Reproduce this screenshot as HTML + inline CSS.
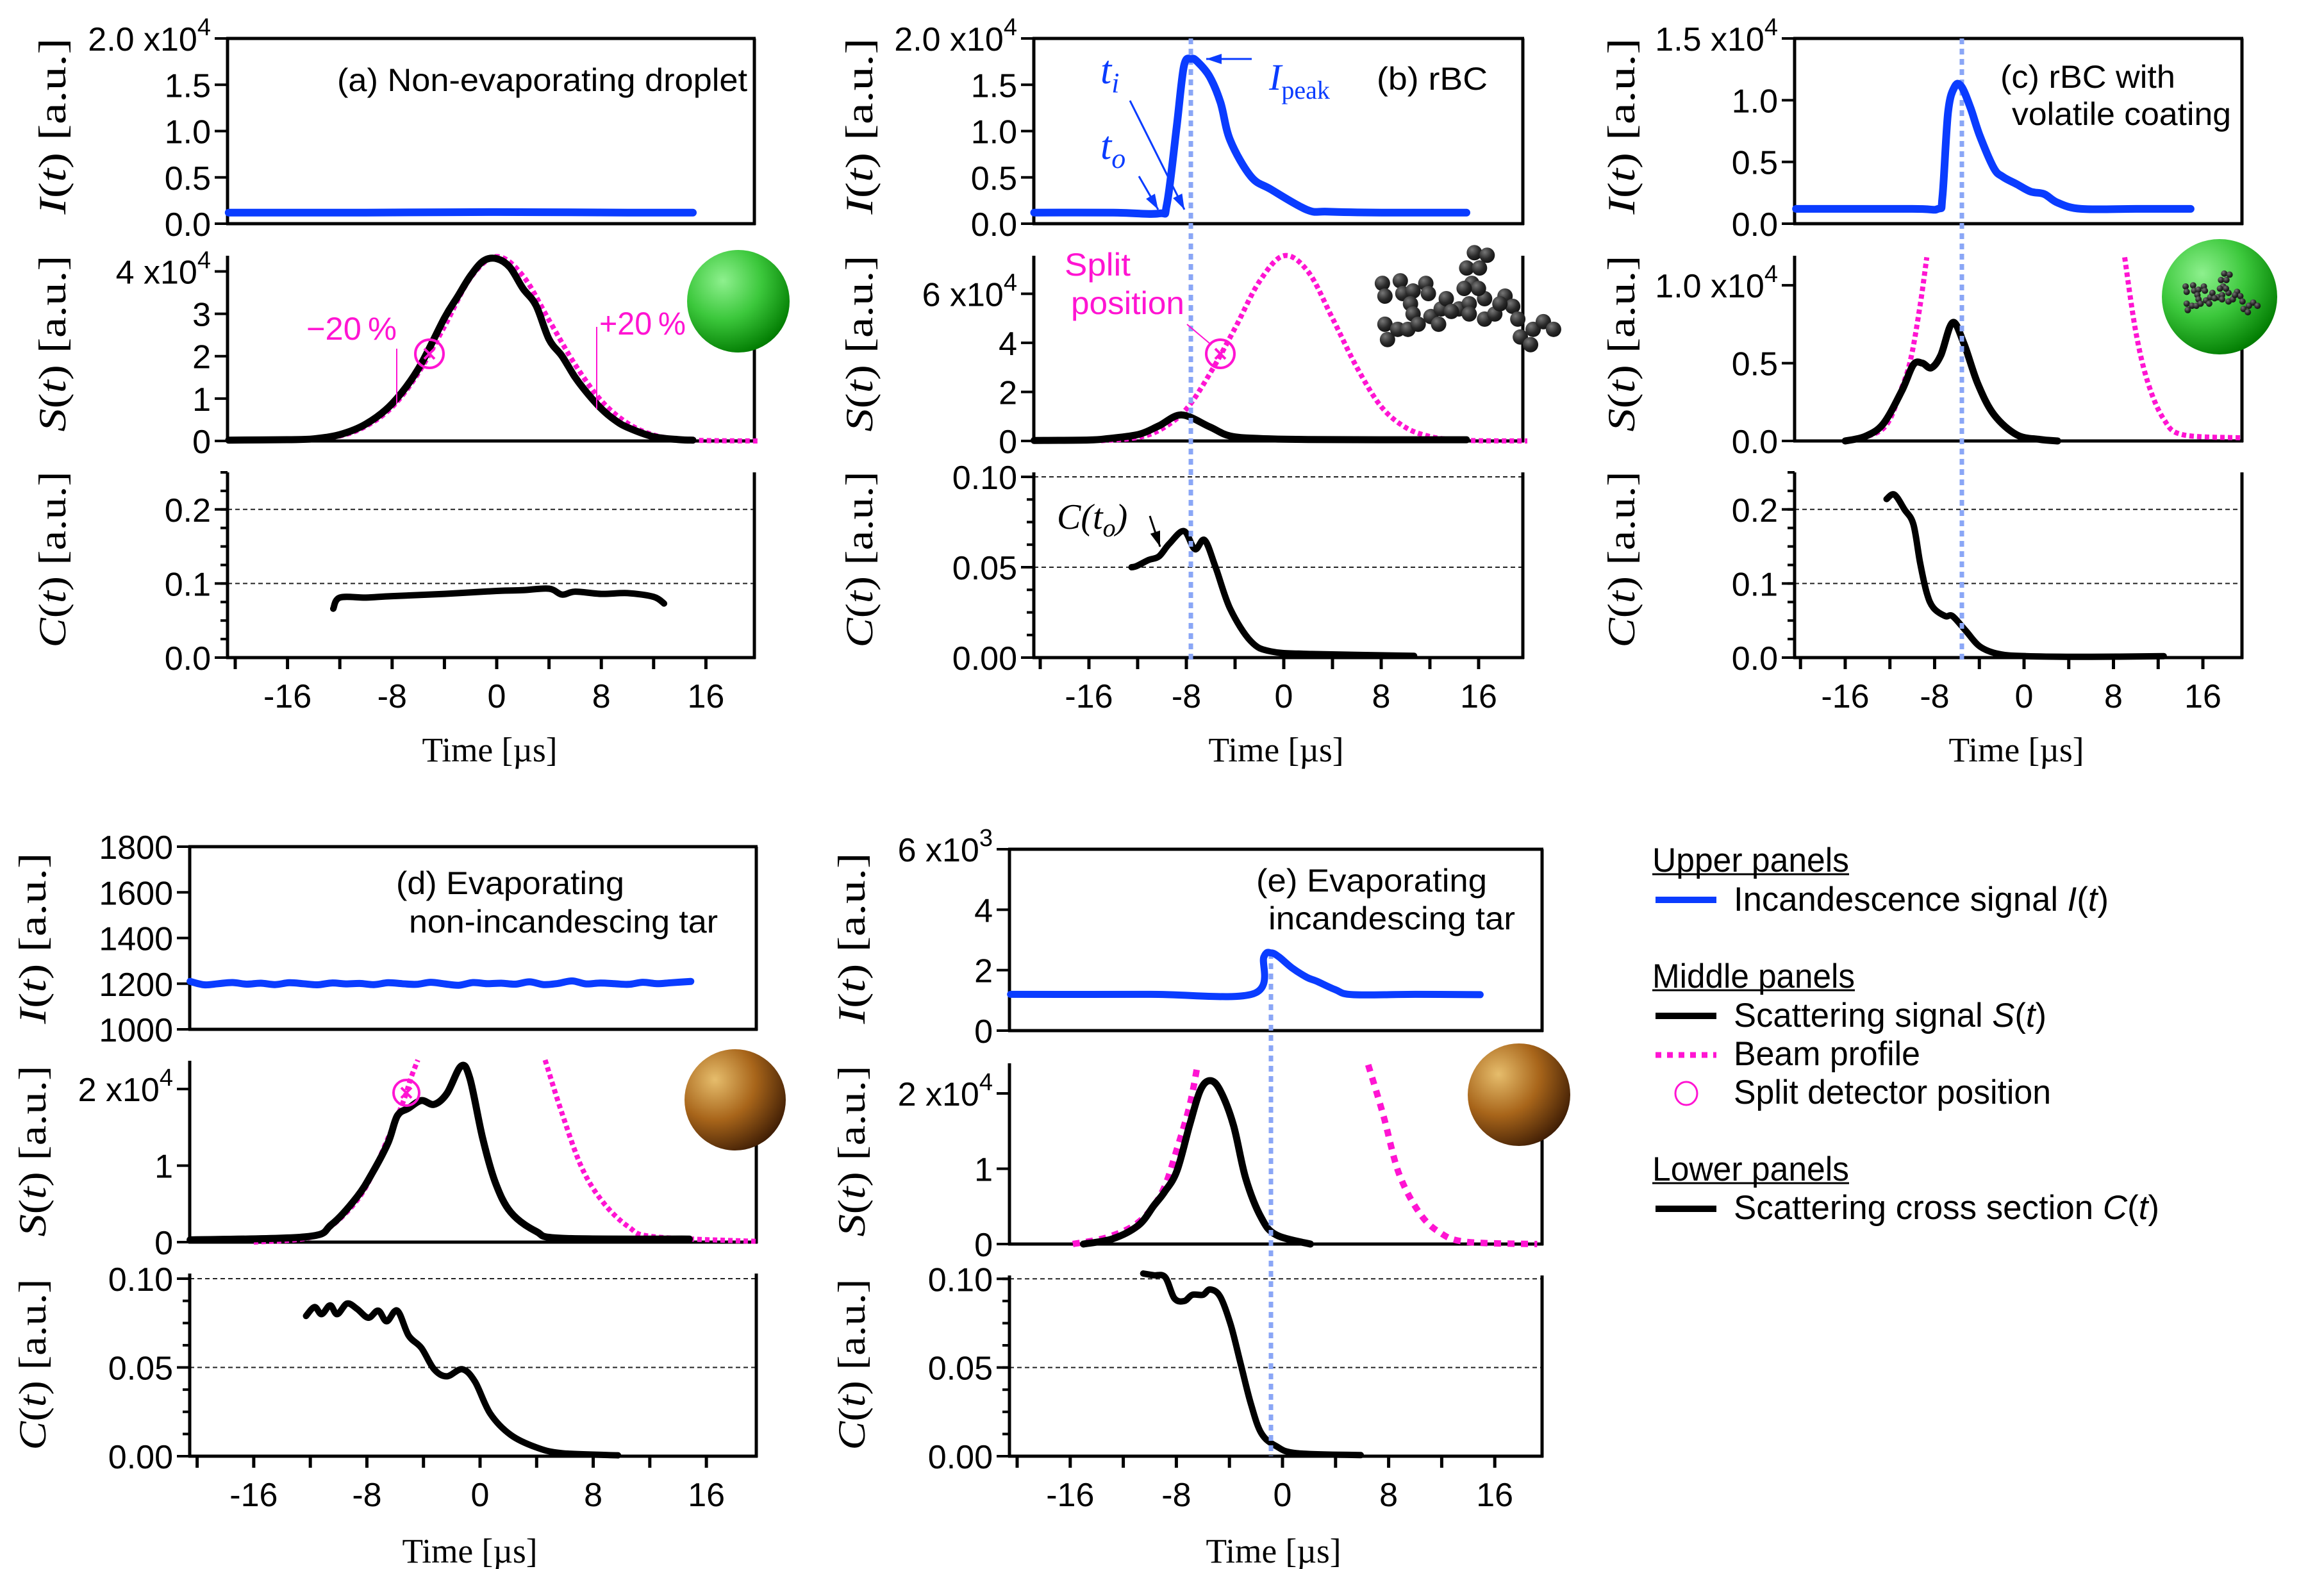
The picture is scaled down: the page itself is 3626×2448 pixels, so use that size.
<!DOCTYPE html>
<html><head><meta charset="utf-8"><style>
html,body{margin:0;padding:0;background:#fff;}
svg{display:block;}
text{font-family:"Liberation Sans",sans-serif;}
.serif{font-family:"Liberation Serif",serif;}
</style></head><body>
<svg id="fig" xmlns="http://www.w3.org/2000/svg" width="3626" height="2448" viewBox="0 0 3626 2448">
<defs>
<radialGradient id="gGreen" cx="0.35" cy="0.3" r="0.75"><stop offset="0" stop-color="#8ef08e"/><stop offset="0.5" stop-color="#3cc83c"/><stop offset="1" stop-color="#007a00"/></radialGradient>
<radialGradient id="gBrown" cx="0.3" cy="0.3" r="0.8"><stop offset="0" stop-color="#e6bd6c"/><stop offset="0.5" stop-color="#a8651a"/><stop offset="1" stop-color="#3a1a04"/></radialGradient>
<radialGradient id="gBlack" cx="0.35" cy="0.3" r="0.75"><stop offset="0" stop-color="#777"/><stop offset="0.6" stop-color="#2a2a2a"/><stop offset="1" stop-color="#111"/></radialGradient>
</defs>
</svg>
<script>
// ---------- DATA ----------
// Panel (a)
const aIT=[-20.5,-10,0,10,15], aIV=[0.12,0.12,0.125,0.12,0.12];
const aST=[-20.5,-16,-14,-12,-10,-8,-6,-4,-3,-2,-1,0,1,2,3,4,5,6,7,8,9,10,12,14,15];
const aSV=[0.02,0.03,0.05,0.15,0.4,0.88,1.7,2.9,3.4,3.9,4.25,4.3,4.1,3.6,3.2,2.4,2.0,1.5,1.1,0.76,0.5,0.32,0.1,0.03,0.02];
const aBT=[-15,-12,-10,-8,-6,-4,-2,0,2,4,6,8,10,12,14,16,20];
const aBV=[0.02,0.12,0.35,0.8,1.6,2.7,3.85,4.35,3.9,2.85,1.8,0.95,0.42,0.14,0.04,0.01,0];
const aCT=[-12.5,-12,-10,-8,-4,0,2,4,5,6,8,10,12,12.8];
const aCV=[0.066,0.081,0.081,0.083,0.086,0.09,0.091,0.093,0.085,0.089,0.086,0.087,0.082,0.073];
// Panel (b)
const bIT=[-20.5,-14,-10.25,-9.6,-8.8,-8.2,-7.6,-7.1,-6.1,-5.2,-4.4,-2.7,-1.05,1.9,3.6,8,15];
const bIV=[0.12,0.12,0.11,0.21,1.04,1.70,1.78,1.75,1.59,1.31,0.9,0.51,0.37,0.15,0.13,0.12,0.12];
const bST=[-20.5,-16,-14.4,-11.9,-10.25,-8.4,-6.1,-4.4,-1.9,2,8,15];
const bSV=[0.02,0.04,0.1,0.27,0.62,1.06,0.58,0.2,0.1,0.06,0.05,0.05];
const bBT=[-15,-12,-10,-8,-6,-4,-2,0,2,4,6,8,10,12,14,16,20];
const bBV=[0.01,0.14,0.5,1.3,2.8,4.6,6.5,7.55,6.9,5.0,3.0,1.4,0.55,0.18,0.05,0.01,0];
const bCT=[-12.5,-12.1,-11.1,-10.25,-9.4,-8.2,-7.3,-6.5,-5.6,-4.4,-2.7,-1.05,2.3,10.7];
const bCV=[0.05,0.0506,0.054,0.056,0.063,0.07,0.06,0.065,0.05,0.027,0.009,0.0034,0.002,0.001];
// Panel (c)
const cIT=[-20.4,-10,-7.7,-7.3,-6.8,-6.2,-5.6,-4.8,-3.95,-2.7,-1.9,-0.66,0.58,1.8,3.0,5.1,10,14.9];
const cIV=[0.12,0.12,0.12,0.22,0.9,1.11,1.11,0.94,0.71,0.45,0.38,0.32,0.26,0.24,0.17,0.12,0.12,0.12];
const cST=[-16,-14.2,-12.6,-10.95,-9.9,-9.1,-8.3,-7.45,-6.4,-5.4,-4.15,-2.7,-0.66,1.4,3.0];
const cSV=[0,0.03,0.11,0.32,0.49,0.5,0.47,0.55,0.76,0.63,0.37,0.17,0.04,0.01,0];
const cBLT=[-16,-12.6,-10.95,-10.1,-9.3,-8.7], cBLV=[0,0.08,0.34,0.54,0.87,1.18];
const cBRT=[9.0,10.0,11.1,12.5,14.2,19.5], cBRV=[1.18,0.70,0.37,0.14,0.04,0.02];
const cCT=[-12.3,-11.6,-10.7,-9.9,-9.3,-8.7,-8.1,-7.04,-6.4,-5.2,-3.95,-2.3,0.16,6,12.5];
const cCV=[0.214,0.22,0.2,0.18,0.128,0.087,0.067,0.056,0.056,0.036,0.015,0.005,0.002,0.001,0.002];
// Panel (d)
const dIT=[-20.5,-19.5,-18.5,-17.5,-16.5,-15.5,-14.5,-13.5,-12.5,-11.5,-10.5,-9.5,-8.5,-7.5,-6.5,-5.5,-4.5,-3.5,-2.5,-1.5,-0.5,0.5,1.5,2.5,3.5,4.5,5.5,6.5,7.5,8.5,9.5,10.5,11.5,12.5,13.5,14.9];
const dIV=[1210,1195,1200,1205,1198,1202,1196,1204,1200,1195,1203,1199,1201,1196,1204,1200,1197,1206,1199,1193,1205,1200,1202,1198,1208,1196,1201,1212,1199,1203,1200,1197,1206,1200,1204,1210];
const dST=[-20.5,-12.3,-10.5,-8.7,-7.6,-6.5,-5.85,-5.05,-4.15,-3.25,-2.35,-1.34,-0.72,0.18,1.08,2.17,3.97,5.8,14.8];
const dSV=[0.03,0.07,0.23,0.59,0.91,1.3,1.65,1.75,1.85,1.8,1.94,2.3,2.14,1.36,0.78,0.39,0.14,0.05,0.04];
const dBLT=[-16,-12.3,-10.5,-8.3,-6.5,-5.4,-4.9,-4.4], dBLV=[0,0.05,0.21,0.65,1.36,1.85,2.14,2.38];
const dBRT=[4.6,5.8,7.2,8.7,10.5,12.3,19.5], dBRV=[2.38,1.68,0.97,0.52,0.2,0.07,0.01];
const dCT=[-12.3,-11.7,-11.2,-10.6,-10.1,-9.4,-8.7,-7.9,-7.2,-6.6,-5.85,-5.05,-4.15,-3.25,-2.35,-1.26,-0.36,0.72,2.17,3.97,5.8,9.75];
const dCV=[0.079,0.084,0.08,0.085,0.08,0.086,0.083,0.078,0.082,0.076,0.082,0.068,0.061,0.049,0.045,0.049,0.042,0.024,0.012,0.005,0.0017,0.0005];
// Panel (e)
const eIT=[-20.5,-10,-2.2,-1.4,-0.85,-0.27,0.7,1.85,2.6,4.0,5.3,10,14.9];
const eIV=[1.2,1.2,1.22,2.44,2.57,2.44,2.08,1.76,1.63,1.35,1.19,1.2,1.19];
const eST=[-15,-12.8,-10.85,-9.7,-8.9,-7.96,-7.0,-6.2,-5.46,-4.7,-3.7,-2.77,-1.6,-0.46,2.1];
const eSV=[0,0.07,0.25,0.51,0.69,0.97,1.58,2.04,2.17,2.04,1.58,0.87,0.35,0.12,0];
const eBLT=[-15.8,-13.2,-10.85,-9.1,-7.96,-7.0,-6.4], eBLV=[0,0.09,0.29,0.68,1.26,1.84,2.38];
const eBRT=[6.46,7.6,8.77,10.3,11.8,13.8,19.2], eBRV=[2.38,1.71,0.94,0.42,0.16,0.03,0];
const eCT=[-10.5,-9.7,-8.85,-8.15,-7.4,-6.8,-6.0,-5.46,-4.7,-3.9,-3.15,-2.4,-1.6,-0.46,1.08,5.9];
const eCV=[0.103,0.102,0.101,0.089,0.0875,0.091,0.091,0.094,0.09,0.074,0.052,0.03,0.013,0.0056,0.0017,0.0006];
// tick labels
const xTickLabels=["-16","-8","0","8","16"];
const xTickVals=[-16,-8,0,8,16];

// ---------- DRAWING ----------
const NS="http://www.w3.org/2000/svg";
const svg=document.getElementById('fig');
function el(tag,attrs,parent){const e=document.createElementNS(NS,tag);for(const k in attrs)e.setAttribute(k,attrs[k]);(parent||svg).appendChild(e);return e;}
const BLUE="#0a3cff", MAG="#ff14d2", VDOT="#8aa6f6";

function makePanel(name,L,R,zeroX,ppu,rows,yr){
  const P={name,L,R,zeroX,ppu,rows,yr};
  P.x=t=>zeroX+t*ppu;
  P.y=(k,v)=>{const r=rows[k],q=yr[k];return r[1]-(v-q[0])/(q[1]-q[0])*(r[1]-r[0]);};
  return P;
}
function axes(P,k,ticks,labels,minor,grid,full){
  const g=el('g',{});
  
  
  const [t,b]=P.rows[k];
  if(grid){grid.forEach(v=>{const y=P.y(k,v);const gl=el('line',{x1:P.L,x2:P.R,y1:y,y2:y,stroke:'#222','stroke-width':2,'stroke-dasharray':'7 5'},g);
    });}
  el('line',{x1:P.L,x2:P.L,y1:t,y2:b+2,stroke:'#000','stroke-width':5},g);
  el('line',{x1:P.R,x2:P.R,y1:t,y2:b+2,stroke:'#000','stroke-width':5},g);
  el('line',{x1:P.L-2,x2:P.R+2,y1:b,y2:b,stroke:'#000','stroke-width':5},g);
  if(full)el('line',{x1:P.L-2,x2:P.R+2,y1:t,y2:t,stroke:'#000','stroke-width':5},g);
  if(minor){for(let v=P.yr[k][0];v<=P.yr[k][1]+1e-9;v+=minor){const y=P.y(k,v);el('line',{x1:P.L-11,x2:P.L,y1:y,y2:y,stroke:'#000','stroke-width':4},g);}}
  ticks.forEach((v,i)=>{const y=P.y(k,v);el('line',{x1:P.L-20,x2:P.L,y1:y,y2:y,stroke:'#000','stroke-width':4},g);
    const lab=labels[i];const tx=el('text',{x:P.L-26,y:y+19,'font-size':52,'text-anchor':'end'},g);
    
    if(lab.indexOf('^')>=0){const [m,s]=lab.split('^');tx.textContent=m;const sp=el('tspan',{dy:-24,'font-size':38},tx);sp.textContent=s;}
    else tx.textContent=lab;});
}
function xaxis(P,base,labY,timeX,timeY){
  const g=el('g',{});
  
  
  for(let v=-20;v<=16;v+=4){const x=P.x(v);el('line',{x1:x,x2:x,y1:base,y2:base+18,stroke:'#000','stroke-width':5},g);}
  xTickVals.forEach((v,i)=>{const tx=el('text',{x:P.x(v),y:labY,'font-size':52,'text-anchor':'middle'},g);tx.textContent=xTickLabels[i];
    });
  const tt=el('text',{x:timeX,y:timeY,'font-size':54,'text-anchor':'middle',class:'serif',textLength:211,lengthAdjust:'spacingAndGlyphs'},g);
  tt.textContent='Time [\u00b5s]';
  
}
function ytitle(x,y,sym,len){
  const tx=el('text',{x:0,y:0,'font-size':60,class:'serif',transform:`translate(${x},${y}) rotate(-90)`,'text-anchor':'middle',textLength:len,lengthAdjust:'spacingAndGlyphs'});
  
  const a=el('tspan',{'font-style':'italic'},tx);a.textContent=sym;
  const b=el('tspan',{},tx);b.textContent='(';
  const c=el('tspan',{'font-style':'italic'},tx);c.textContent='t';
  const d=el('tspan',{},tx);d.textContent=')  [a.u.]';
}
function series(P,k,T,V,color,w,dash,name){
  const pts=T.map((t,i)=>[P.x(t),P.y(k,V[i])]);
  let d='M'+pts[0][0].toFixed(1)+','+pts[0][1].toFixed(1);
  for(let i=0;i<pts.length-1;i++){
    const p0=pts[Math.max(i-1,0)],p1=pts[i],p2=pts[i+1],p3=pts[Math.min(i+2,pts.length-1)];
    const c1x=p1[0]+(p2[0]-p0[0])/6,c1y=p1[1]+(p2[1]-p0[1])/6;
    const c2x=p2[0]-(p3[0]-p1[0])/6,c2y=p2[1]-(p3[1]-p1[1])/6;
    d+='C'+c1x.toFixed(1)+','+c1y.toFixed(1)+' '+c2x.toFixed(1)+','+c2y.toFixed(1)+' '+p2[0].toFixed(1)+','+p2[1].toFixed(1);
  }
  const a={d,fill:'none',stroke:color,'stroke-width':w,'stroke-linejoin':'round','stroke-linecap':dash?'butt':'round'};
  if(dash)a['stroke-dasharray']=dash;
  const p=el('path',a);
  
  
  return p;
}
function txt(x,y,s,size,color,name,len,extra){
  const a={x,y,'font-size':size,fill:color||'#000'};
  if(len){a.textLength=len;a.lengthAdjust='spacingAndGlyphs';}
  Object.assign(a,extra||{});
  const t=el('text',a);t.textContent=s;
  
  
  return t;
}
function splitCircle(x,y,r,name){
  const g=el('g',{});
  
  
  el('circle',{cx:x,cy:y,r:r,fill:'none',stroke:MAG,'stroke-width':4},g);
  el('path',{d:`M${x-8},${y-8}L${x+8},${y+8}M${x+8},${y-8}L${x-8},${y+8}`,stroke:MAG,'stroke-width':4},g);
}
function vline(x,y1,y2,name){const l=el('line',{x1:x,x2:x,y1:y1,y2:y2,stroke:VDOT,'stroke-width':7,'stroke-dasharray':'9 7'});
  }
function arrow(x1,y1,x2,y2,color,name){
  const g=el('g',{});
  
  
  el('line',{x1,y1,x2,y2,stroke:color,'stroke-width':3},g);
  const ang=Math.atan2(y2-y1,x2-x1),L=24,W=8;
  const bx=x2-L*Math.cos(ang),by=y2-L*Math.sin(ang);
  el('polygon',{points:`${x2},${y2} ${bx+W*Math.sin(ang)},${by-W*Math.cos(ang)} ${bx-W*Math.sin(ang)},${by+W*Math.cos(ang)}`,fill:color},g);
}
const clusterZ=[[1130,550],[1135,575],[1165,545],[1170,570],[1190,565],[1215,550],[1220,570],[1185,590],[1190,610],[1135,630],[1140,660],[1160,640],[1180,640],[1200,630],[1225,615],[1245,600],[1255,580],[1280,600],[1300,590],[1310,490],[1335,495],[1295,520],[1320,520],[1305,550],[1330,580],[1300,610],[1330,620],[1350,610],[1370,575],[1385,595],[1395,620],[1400,655],[1420,670],[1425,640],[1445,625],[1465,640],[1360,590],[1240,630],[1265,605],[1318,560],[1290,560]];
function cluster(cx,cy,s,r,name){
  const g=el('g',{});
  
  
  clusterZ.forEach(p=>{const x=cx+(p[0]-1297)/1.2544*s,y=cy+(p[1]-580)/1.2544*s;el('circle',{cx:x,cy:y,r:r,fill:'url(#gBlack)'},g);});
}
function sphere(cx,cy,r,fill,name){const c=el('circle',{cx,cy,r,fill});}

const rowsTop=[[60,349],[399,688],[737,1026]];
const BEAM_DOT='7 5';
const WI=12, WS=11, WC=10;
// ---- Panel a ----
const A=makePanel('panel-a',355,1177,775,20.4,rowsTop,[[0,2.0],[0,4.37],[0,0.25]]);
axes(A,0,[0,0.5,1.0,1.5,2.0],["0.0","0.5","1.0","1.5","2.0 x10^4"],0,null,true);
axes(A,1,[0,1,2,3,4],["0","1","2","3","4 x10^4"],0,null,false);
axes(A,2,[0,0.1,0.2],["0.0","0.1","0.2"],0.025,[0.1,0.2],false);
xaxis(A,1026,1104,764,1188);
ytitle(102,197,'I',275);ytitle(102,536,'S',275);ytitle(102,873,'C',275);
series(A,0,aIT,aIV,BLUE,WI,null,'a-incandescence-line');
series(A,1,aBT,aBV,MAG,8,BEAM_DOT,'a-beam-profile');
series(A,1,aST,aSV,'#000',WS,null,'a-scattering-line');
series(A,2,aCT,aCV,'#000',WC,null,'a-cross-section-line');
txt(526,142,'(a) Non-evaporating droplet',50,'#000','a-panel-label',640);
txt(478,530,'\u221220\u2009%',50,MAG,'minus-20-label',141);
txt(935,522,'+20\u2009%',50,MAG,'plus-20-label',135);
el('line',{x1:619,x2:619,y1:544,y2:630,stroke:MAG,'stroke-width':2});
el('line',{x1:931,x2:931,y1:510,y2:638,stroke:MAG,'stroke-width':2});
splitCircle(670,552,22,'a-split-position');
sphere(1152,470,80,'url(#gGreen)','droplet-sphere');
// ---- Panel b ----
const B=makePanel('panel-b',1613,2376,2003,19.0,rowsTop,[[0,2.0],[0,7.55],[0,0.1025]]);
axes(B,0,[0,0.5,1.0,1.5,2.0],["0.0","0.5","1.0","1.5","2.0 x10^4"],0,null,true);
axes(B,1,[0,2,4,6],["0","2","4","6 x10^4"],0,null,false);
axes(B,2,[0,0.05,0.10],["0.00","0.05","0.10"],0.0125,[0.05,0.1],false);
xaxis(B,1026,1104,1991,1188);
ytitle(1361,197,'I',275);ytitle(1361,536,'S',275);ytitle(1361,873,'C',275);
series(B,1,bBT,bBV,MAG,8,BEAM_DOT,'b-beam-profile');
series(B,1,bST,bSV,'#000',WS,null,'b-scattering-line');
series(B,2,bCT,bCV,'#000',WC,null,'b-cross-section-line');
vline(B.x(-7.63),60,1030,'b-peak-time-line');
series(B,0,bIT,bIV,BLUE,WI,null,'b-incandescence-line');
txt(2148,140,'(b) rBC',50,'#000','b-panel-label',173);
const ti=txt(1717,130,'t',62,BLUE,'t-i-label',null,{class:'serif','font-style':'italic'});const tis=el('tspan',{dy:14,'font-size':44},ti);tis.textContent='i';
const to=txt(1717,248,'t',62,BLUE,'t-o-label',null,{class:'serif','font-style':'italic'});const tos=el('tspan',{dy:14,'font-size':44},to);tos.textContent='o';
const ip=txt(1980,140,'I',58,BLUE,'i-peak-label',null,{class:'serif','font-style':'italic'});const ips=el('tspan',{dy:14,'font-size':40,'font-style':'normal'},ip);ips.textContent='peak';
arrow(1953,92,1882,92,BLUE,'i-peak-arrow');
arrow(1763,157,1848,327,BLUE,'t-i-arrow');
arrow(1777,275,1807,327,BLUE,'t-o-arrow');
txt(1661,430,'Split',50,MAG,'split-label',103);
txt(1671,490,'position',50,MAG,'position-label',177);
el('line',{x1:1852,y1:506,x2:1890,y2:538,stroke:MAG,'stroke-width':2});
splitCircle(1904,552,22,'b-split-position');
const ct=txt(1649,825,'C(',56,'#000','c-t-o-label',null,{class:'serif','font-style':'italic'});
const cts=el('tspan',{},ct);cts.textContent='t';const cto=el('tspan',{dy:12,'font-size':40},ct);cto.textContent='o';const ctc=el('tspan',{dy:-12},ct);ctc.textContent=')';
arrow(1794,805,1810,853,'#000','c-t-o-arrow');
cluster(2290,466,1,12,'rbc-aggregate');
// ---- Panel c ----
const Cp=makePanel('panel-c',2800,3498,3158,17.44,rowsTop,[[0,1.5],[0,1.19],[0,0.25]]);
axes(Cp,0,[0,0.5,1.0,1.5],["0.0","0.5","1.0","1.5 x10^4"],0,null,true);
axes(Cp,1,[0,0.5,1.0],["0.0","0.5","1.0 x10^4"],0,null,false);
axes(Cp,2,[0,0.1,0.2],["0.0","0.1","0.2"],0.025,[0.1,0.2],false);
xaxis(Cp,1026,1104,3146,1188);
ytitle(2550,197,'I',275);ytitle(2550,536,'S',275);ytitle(2550,873,'C',275);
series(Cp,1,cBLT,cBLV,MAG,8,BEAM_DOT,'c-beam-profile-left');
series(Cp,1,cBRT,cBRV,MAG,8,BEAM_DOT,'c-beam-profile-right');
series(Cp,1,cST,cSV,'#000',WS,null,'c-scattering-line');
series(Cp,2,cCT,cCV,'#000',WC,null,'c-cross-section-line');
vline(3061,60,1030,'c-peak-time-line');
series(Cp,0,cIT,cIV,BLUE,WI,null,'c-incandescence-line');
txt(3121,137,'(c) rBC with',50,'#000','c-panel-label-1',273);
txt(3139,195,'volatile coating',50,'#000','c-panel-label-2',342);
sphere(3463,463,90,'url(#gGreen)','coated-sphere');
cluster(3466,457,0.42,5,'coated-aggregate');
// ---- Panel d ----
const D=makePanel('panel-d',296,1180,749,22.07,[[1321,1606],[1655,1938],[1987,2272]],[[1000,1800],[0,2.37],[0,0.1029]]);
axes(D,0,[1000,1200,1400,1600,1800],["1000","1200","1400","1600","1800"],0,null,true);
axes(D,1,[0,1,2],["0","1","2 x10^4"],0,null,false);
axes(D,2,[0,0.05,0.10],["0.00","0.05","0.10"],0.0125,[0.05,0.1],false);
xaxis(D,2272,2350,733,2438);
ytitle(71,1464,'I',267);ytitle(71,1796,'S',267);ytitle(71,2129,'C',267);
series(D,0,dIT,dIV,BLUE,11,null,'d-incandescence-line');
series(D,1,dBLT,dBLV,MAG,8,BEAM_DOT,'d-beam-profile-left');
series(D,1,dBRT,dBRV,MAG,8,BEAM_DOT,'d-beam-profile-right');
series(D,1,dST,dSV,'#000',WS,null,'d-scattering-line');
series(D,2,dCT,dCV,'#000',WC,null,'d-cross-section-line');
splitCircle(634,1705,20,'d-split-position');
txt(618,1395,'(d) Evaporating',50,'#000','d-panel-label-1',356);
txt(638,1455,'non-incandescing tar',50,'#000','d-panel-label-2',482);
sphere(1147,1716,79,'url(#gBrown)','tar-sphere-d');
// ---- Panel e ----
const E=makePanel('panel-e',1575,2406,2001,20.7,[[1325,1608],[1659,1941],[1990,2272]],[[0,6],[0,2.4],[0,0.1019]]);
axes(E,0,[0,2,4,6],["0","2","4","6 x10^3"],0,null,true);
axes(E,1,[0,1,2],["0","1","2 x10^4"],0,null,false);
axes(E,2,[0,0.05,0.10],["0.00","0.05","0.10"],0.0125,[0.05,0.1],false);
xaxis(E,2272,2350,1987,2438);
ytitle(1349,1464,'I',267);ytitle(1349,1796,'S',267);ytitle(1349,2129,'C',267);
series(E,1,eBLT,eBLV,MAG,10,'11 10','e-beam-profile-left');
series(E,1,eBRT,eBRV,MAG,10,'11 10','e-beam-profile-right');
series(E,1,eST,eSV,'#000',WS,null,'e-scattering-line');
series(E,2,eCT,eCV,'#000',WC,null,'e-cross-section-line');
vline(1983,1487,2272,'e-peak-time-line');
series(E,0,eIT,eIV,BLUE,11,null,'e-incandescence-line');
txt(1960,1391,'(e) Evaporating',50,'#000','e-panel-label-1',360);
txt(1979,1450,'incandescing tar',50,'#000','e-panel-label-2',385);
sphere(2370,1708,80,'url(#gBrown)','tar-sphere-e');
// ---- Legend ----
const lg=el('g',{});


function lhead(y,s,w,name){const t=txt(2578,y,s,53,'#000',name,w);lg.appendChild(t);el('line',{x1:2578,x2:2578+w,y1:y+4,y2:y+4,stroke:'#000','stroke-width':3},lg);}
lhead(1360,'Upper panels',307,'legend-upper-heading');
lhead(1541,'Middle panels',316,'legend-middle-heading');
lhead(1842,'Lower panels',307,'legend-lower-heading');
el('line',{x1:2583,x2:2678,y1:1404,y2:1404,stroke:BLUE,'stroke-width':10},lg);
el('line',{x1:2583,x2:2678,y1:1585,y2:1585,stroke:'#000','stroke-width':10},lg);
el('line',{x1:2583,x2:2678,y1:1646,y2:1646,stroke:MAG,'stroke-width':9,'stroke-dasharray':'9 9'},lg);
el('ellipse',{cx:2631,cy:1706,rx:17,ry:18,fill:'none',stroke:MAG,'stroke-width':3},lg);
el('line',{x1:2583,x2:2678,y1:1886,y2:1886,stroke:'#000','stroke-width':10},lg);
function lent(y,pre,sym,w,name){const t=txt(2705,y,pre,53,'#000',name,w);lg.appendChild(t);
  if(sym){const a=el('tspan',{'font-style':'italic'},t);a.textContent=sym;const b=el('tspan',{},t);b.textContent='(';const c=el('tspan',{'font-style':'italic'},t);c.textContent='t';const d=el('tspan',{},t);d.textContent=')';}}
lent(1421,'Incandescence signal ','I',585,'legend-incandescence');
lent(1602,'Scattering signal ','S',488,'legend-scattering');
lent(1662,'Beam profile',null,291,'legend-beam-profile');
lent(1722,'Split detector position',null,495,'legend-split-detector');
lent(1902,'Scattering cross section ','C',664,'legend-cross-section');
</script>
</body></html>
